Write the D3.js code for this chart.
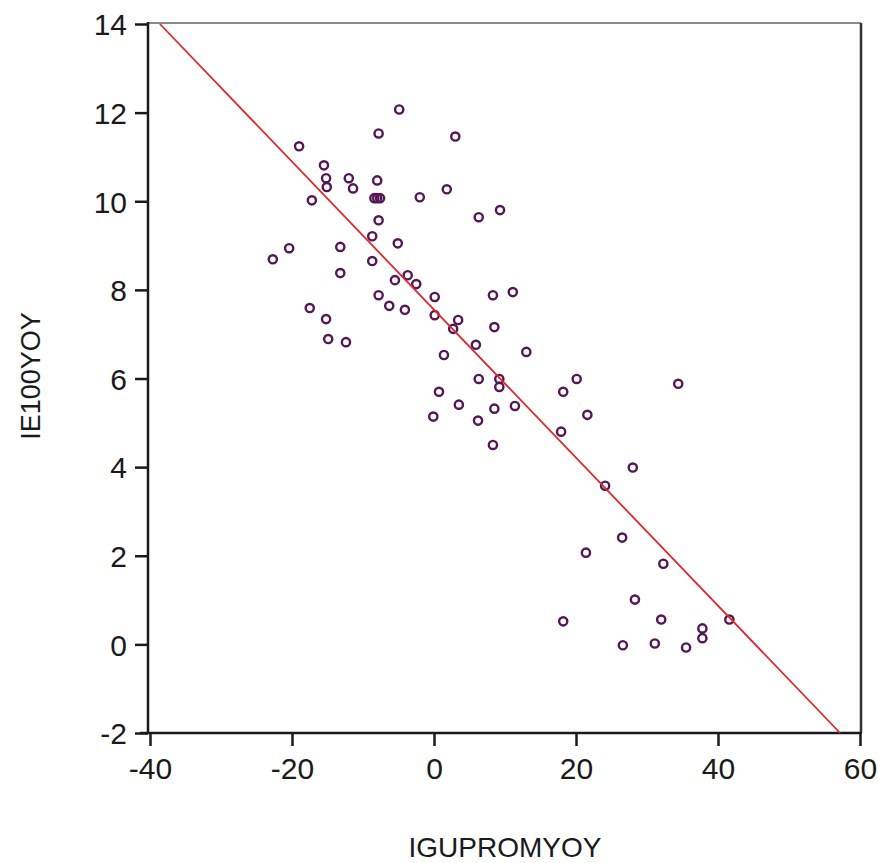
<html>
<head>
<meta charset="utf-8">
<script src="https://d3js.org/d3.v7.min.js"></script>
<style>
  body { margin: 0; background: #fff; }
  text { font-family: "Liberation Sans", Arial, sans-serif; fill: #1a1a1a; }
</style>
</head>
<body>
<div id="graph"></div>
<script>
// IGUPROMYOY (x) vs IE100YOY (y)
var xValues = [-4.9, -7.8, 3.0, -19.0, -15.5, -12.0, -15.2, -8.0, -11.4, -15.1, -17.2,
  -8.4, -8.0, -7.6, -2.0, 1.8, 6.3, 9.3, -7.8, -8.7, -5.1, -20.4, -22.7, -13.2,
  -8.7, -13.2, -5.5, -3.7, -2.5, -7.8, -6.3, -4.1, 0.1, 0.1, 3.4, 2.7, 5.9,
  -17.5, -15.2, -14.9, -12.4, 1.4, 8.3, 11.1, 8.5, 13.0, 6.3, 9.2, 9.2, 20.1,
  0.7, 18.2, 3.5, 8.5, 11.4, -0.1, 6.2, 17.9, 8.3, 21.6, 34.4, 28.0, 24.1,
  26.5, 21.4, 32.3, 28.3, 18.2, 32.0, 41.6, 37.8, 37.8, 26.6, 31.1, 35.5];
var yValues = [12.07, 11.53, 11.46, 11.24, 10.81, 10.52, 10.52, 10.47, 10.29, 10.32, 10.02,
  10.07, 10.07, 10.07, 10.09, 10.27, 9.64, 9.80, 9.57, 9.21, 9.05, 8.94, 8.69, 8.97,
  8.65, 8.38, 8.22, 8.33, 8.13, 7.88, 7.64, 7.55, 7.84, 7.43, 7.32, 7.12, 6.76,
  7.59, 7.34, 6.89, 6.82, 6.53, 7.88, 7.95, 7.16, 6.60, 5.99, 5.99, 5.81, 5.99,
  5.70, 5.70, 5.41, 5.32, 5.38, 5.14, 5.05, 4.80, 4.50, 5.18, 5.88, 3.99, 3.58,
  2.41, 2.07, 1.82, 1.01, 0.52, 0.56, 0.56, 0.36, 0.14, -0.02, 0.02, -0.07];

// fitted line endpoints
var fitX = [-38.6, 57.2];
var fitY = [14, -2];

var xTicks = [-40, -20, 0, 20, 40, 60];
var yTicks = [-2, 0, 2, 4, 6, 8, 10, 12, 14];

var width = 878, height = 863;

var svg = d3.select("#graph").append("svg")
    .attr("width", width)
    .attr("height", height);

var x = d3.scaleLinear().domain([-40, 60]).range([150, 860]);
var y = d3.scaleLinear().domain([-2, 14]).range([733, 24]);

var fmt = function(d) { return String(d); }; // plain hyphen like the original

// frame: light top, dark right
svg.append("line")
    .attr("x1", 148).attr("x2", 861).attr("y1", 23).attr("y2", 23)
    .attr("stroke", "#8a8a8a").attr("stroke-width", 2);
svg.append("line")
    .attr("x1", 861).attr("x2", 861).attr("y1", 23).attr("y2", 733)
    .attr("stroke", "#333").attr("stroke-width", 2.5);

var xAxis = d3.axisBottom(x).tickValues(xTicks).tickFormat(fmt).tickSize(13).tickPadding(12);
var yAxis = d3.axisLeft(y).tickValues(yTicks).tickFormat(fmt).tickSize(13).tickPadding(8);

var gx = svg.append("g")
    .attr("transform", "translate(0,733)")
    .call(xAxis);
gx.select(".domain").remove();
gx.append("line")
    .attr("x1", 140).attr("x2", 862).attr("y1", 0).attr("y2", 0)
    .attr("stroke", "#1a1a1a").attr("stroke-width", 2.5);
gx.selectAll(".tick line").attr("stroke", "#1a1a1a").attr("stroke-width", 2.5);
gx.selectAll(".tick text").style("font-size", "30px");

var gy = svg.append("g")
    .attr("transform", "translate(148,0)")
    .call(yAxis);
gy.select(".domain").remove();
gy.append("line")
    .attr("x1", 0).attr("x2", 0).attr("y1", 22).attr("y2", 734)
    .attr("stroke", "#1a1a1a").attr("stroke-width", 2.5);
gy.selectAll(".tick line").attr("stroke", "#1a1a1a").attr("stroke-width", 2.5);
gy.selectAll(".tick text").style("font-size", "30px").attr("dy", "0.36em");

svg.selectAll("text").attr("fill", "#1a1a1a");

// points
svg.append("g").selectAll("circle")
    .data(xValues)
    .enter().append("circle")
    .attr("cx", function(d) { return x(d); })
    .attr("cy", function(d, i) { return y(yValues[i]); })
    .attr("r", 4.1)
    .attr("fill", "none")
    .attr("stroke", "#541655")
    .attr("stroke-width", 2.4);

// regression line
svg.append("line")
    .attr("x1", x(fitX[0])).attr("y1", y(fitY[0]))
    .attr("x2", x(fitX[1])).attr("y2", y(fitY[1]))
    .attr("stroke", "#e0282c")
    .attr("stroke-width", 1.8);

// axis titles
svg.append("text")
    .attr("x", 505).attr("y", 857)
    .attr("text-anchor", "middle")
    .style("font-size", "28px")
    .attr("fill", "#1a1a1a")
    .text("IGUPROMYOY");

svg.append("text")
    .attr("transform", "translate(40,376) rotate(-90)")
    .attr("text-anchor", "middle")
    .style("font-size", "27px")
    .attr("fill", "#1a1a1a")
    .text("IE100YOY");
</script>
</body>
</html>
